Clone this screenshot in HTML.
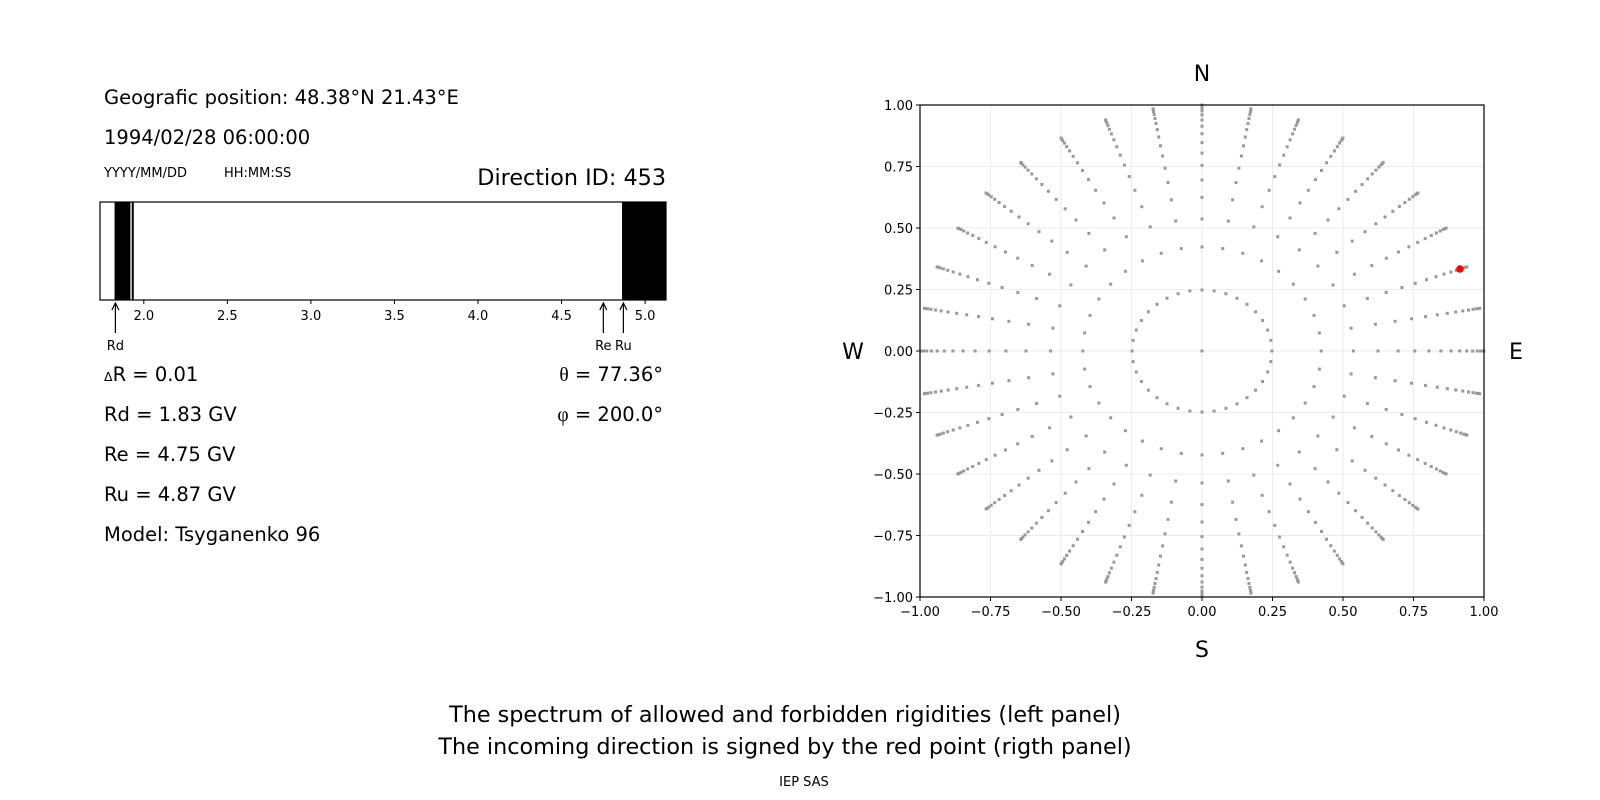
<!DOCTYPE html>
<html><head><meta charset="utf-8">
<style>
html,body{margin:0;padding:0;background:#fff;}
svg{display:block;font-family:"DejaVu Sans","Liberation Sans",sans-serif;}
</style></head><body>
<svg id="s" width="1600" height="800" viewBox="0 0 1600 800" xmlns="http://www.w3.org/2000/svg">
<rect width="1600" height="800" fill="#fff"/>
<g font-size="19.5" fill="#000">
<text x="104" y="104">Geografic position: 48.38°N 21.43°E</text>
<text x="104" y="144">1994/02/28 06:00:00</text>
<text x="104" y="177" font-size="13">YYYY/MM/DD</text>
<text x="224" y="177" font-size="13">HH:MM:SS</text>
<text x="666" y="185" font-size="22.3" text-anchor="end">Direction ID: 453</text>
<text x="104" y="381"><tspan font-size="12.5">Δ</tspan>R = 0.01</text>
<text x="104" y="421">Rd = 1.83 GV</text>
<text x="104" y="461">Re = 4.75 GV</text>
<text x="104" y="501">Ru = 4.87 GV</text>
<text x="104" y="541">Model: Tsyganenko 96</text>
<text x="663" y="381" text-anchor="end"><tspan font-family="Liberation Serif">θ</tspan> = 77.36°</text>
<text x="663" y="421" text-anchor="end"><tspan font-family="Liberation Serif">φ</tspan> = 200.0°</text>
</g>
<g id="bar"></g>
<g id="polar"></g>
<g font-size="22" text-anchor="middle">
<text x="1202" y="81">N</text>
<text x="1202" y="657">S</text>
<text x="853" y="359">W</text>
<text x="1516" y="359">E</text>
<text x="785" y="722" font-size="22.3">The spectrum of allowed and forbidden rigidities (left panel)</text>
<text x="785" y="754" font-size="22.3">The incoming direction is signed by the red point (rigth panel)</text>
<text x="804" y="786" font-size="13">IEP SAS</text>
</g>
<script>
(function(){
var NS="http://www.w3.org/2000/svg";
function el(p,t,a,txt){var e=document.createElementNS(NS,t);for(var k in a)e.setAttribute(k,a[k]);if(txt!==undefined)e.textContent=txt;p.appendChild(e);return e;}
var b=document.getElementById('bar');
var L=100,R=666,T=202,B=300;
function X(v){return 143.8+(v-2.0)*167.1;}
el(b,'rect',{x:X(1.825),y:T,width:X(1.92)-X(1.825),height:B-T,fill:'#000'});
el(b,'rect',{x:X(1.928),y:T,width:X(1.94)-X(1.928),height:B-T,fill:'#000'});
el(b,'rect',{x:X(4.862),y:T,width:R-X(4.862),height:B-T,fill:'#000'});
el(b,'rect',{x:L,y:T,width:R-L,height:B-T,fill:'none',stroke:'#000','stroke-width':1.2});
["2.0","2.5","3.0","3.5","4.0","4.5","5.0"].forEach(function(s){var x=X(parseFloat(s));
el(b,'line',{x1:x,y1:B,x2:x,y2:B+4,stroke:'#000','stroke-width':1});
el(b,'text',{x:x,y:B+20,'font-size':13,'text-anchor':'middle'},s);});
[[1.83,'Rd'],[4.75,'Re'],[4.87,'Ru']].forEach(function(a){var x=X(a[0]);
el(b,'line',{x1:x,y1:333,x2:x,y2:304,stroke:'#000','stroke-width':1.2});
el(b,'path',{d:'M'+(x-3.5)+' 310 L'+x+' 303 L'+(x+3.5)+' 310',fill:'none',stroke:'#000','stroke-width':1.2});
el(b,'text',{x:x,y:350,'font-size':13,'text-anchor':'middle'},a[1]);});
var p=document.getElementById('polar');
var PL=920,PR=1484,PT=105,PB=597,cx=1202,cy=351,sx=282,sy=246;
var ticks=[-1,-0.75,-0.5,-0.25,0,0.25,0.5,0.75,1];
ticks.forEach(function(t){var x=cx+t*sx,y=cy-t*sy;
el(p,'line',{x1:x,y1:PT,x2:x,y2:PB,stroke:'#ebebeb','stroke-width':1});
el(p,'line',{x1:PL,y1:y,x2:PR,y2:y,stroke:'#ebebeb','stroke-width':1});
el(p,'line',{x1:x,y1:PB,x2:x,y2:PB+4,stroke:'#000'});
el(p,'line',{x1:PL-4,y1:y,x2:PL,y2:y,stroke:'#000'});
var s=t.toFixed(2).replace('-','\u2212');
el(p,'text',{x:x,y:PB+19,'font-size':13,'text-anchor':'middle'},s);
el(p,'text',{x:PL-7,y:y+5,'font-size':13,'text-anchor':'end'},s);});
var g=el(p,'g',{fill:'#999'});
el(g,'rect',{x:cx-1.5,y:cy-1.5,width:3,height:3});
for(var a=0;a<36;a++){var ang=a*10*Math.PI/180;
for(var k=0;k<16;k++){var c=1-(k+0.5)/16;var r=Math.sqrt(1-c*c);
var x=cx+r*Math.cos(ang)*sx,y=cy-r*Math.sin(ang)*sy;
el(g,'rect',{x:(x-1.5).toFixed(1),y:(y-1.5).toFixed(1),width:3,height:3});}}
el(p,'circle',{cx:1460,cy:269,r:3.8,fill:'#f00'});
el(p,'rect',{x:PL,y:PT,width:PR-PL,height:PB-PT,fill:'none',stroke:'#000','stroke-width':1.2});
})();
</script>
</svg>
</body></html>
